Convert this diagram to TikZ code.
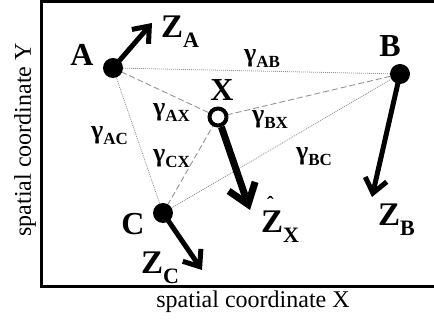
\documentclass[tikz,border=0pt]{standalone}
\usepackage{fontspec}
\setmainfont{Liberation Serif}
\usetikzlibrary{arrows.meta}
\newcommand\zsub[1]{\raisebox{-0.3em}{\fontsize{22}{22}\selectfont #1}}
\newcommand\gsub[1]{\raisebox{-0.22em}{\fontsize{17}{17}\selectfont #1}}
\begin{document}
\begin{tikzpicture}[x=1pt,y=-1pt,
  dotn/.style={circle,fill=black,inner sep=0pt,minimum size=20pt},
  ringn/.style={circle,draw=black,fill=white,line width=4pt,inner sep=0pt,minimum size=17pt},
  ptlbl/.style={font=\fontsize{32}{32}\selectfont\bfseries,inner sep=0pt},
  zlbl/.style={font=\fontsize{33}{33}\selectfont\bfseries,inner sep=0pt,anchor=base west},
  glbl/.style={font=\fontsize{26}{26}\selectfont\bfseries,inner sep=0pt,anchor=base west},
  dotl/.style={draw=gray!85,line width=0.8pt,dash pattern=on 1pt off 1pt},
  dashl/.style={draw=gray!85,line width=0.9pt,dash pattern=on 6pt off 3pt},
  vec/.style={line width=5pt,-{Straight Barb[length=14pt,width=22pt]}},
  vecx/.style={line width=7pt,-{Straight Barb[length=19pt,width=28pt]}},
  axl/.style={font=\fontsize{24}{24}\selectfont,inner sep=0pt}
]
\useasboundingbox (0,0) rectangle (434,320);
% frame
\draw[line width=3pt,line join=miter] (434,2) -- (41,2) -- (41,287) -- (434,287);
% axis labels
\node[axl] (xlab) at (253,302) {spatial coordinate X};
\node[axl,rotate=90] (ylab) at (25,140) {spatial coordinate Y};
% points
\coordinate (pA) at (113,68);
\coordinate (pB) at (400,74);
\coordinate (pC) at (163,213);
\coordinate (pX) at (218,117);
% connectors
\draw[dotl] (pA) -- (pB);
\draw[dotl] (pA) -- (pC);
\draw[dotl] (pC) -- (pB);
\draw[dashl] (pA) -- (pX);
\draw[dashl] (pC) -- (pX);
\draw[dashl] (pX) -- (pB);
% nodes
\node[dotn] (A) at (pA) {};
\node[dotn] (B) at (pB) {};
\node[dotn] (C) at (pC) {};
\node[ringn] (X) at (pX) {};
% vectors
\coordinate (tA) at (152,23);
\coordinate (tB) at (372,197);
\coordinate (tC) at (202,270);
\coordinate (tX) at (250,210);
\draw[vec] (A.center) -- (tA);
\draw[vec] (B.center) -- (tB);
\draw[vec] (C.center) -- (tC);
\draw[vecx] (X) -- (tX);
% point labels
\node[ptlbl] (lA) at (82,55) {A};
\node[ptlbl] (lB) at (390,46) {B};
\node[ptlbl] (lC) at (133,224) {C};
\node[ptlbl] (lX) at (222,90) {X};
% vector labels
\node[zlbl] (zA) at (161,38) {Z\zsub{A}};
\node[zlbl] (zB) at (378,226) {Z\zsub{B}};
\node[zlbl] (zC) at (141,274) {Z\zsub{C}};
\node[zlbl] (zX) at (261,233) {\rlap{\hspace{0.18em}\raisebox{0.68em}{\fontsize{20}{20}\selectfont ˆ}}Z\zsub{X}};
% gamma labels
\node[glbl] (gAB) at (244,62) {γ\gsub{AB}};
\node[glbl] (gAX) at (153,116) {γ\gsub{AX}};
\node[glbl] (gBX) at (252,123) {γ\gsub{BX}};
\node[glbl] (gAC) at (91,139) {γ\gsub{AC}};
\node[glbl] (gCX) at (153,162) {γ\gsub{CX}};
\node[glbl] (gBC) at (296,160) {γ\gsub{BC}};
\end{tikzpicture}
\end{document}
